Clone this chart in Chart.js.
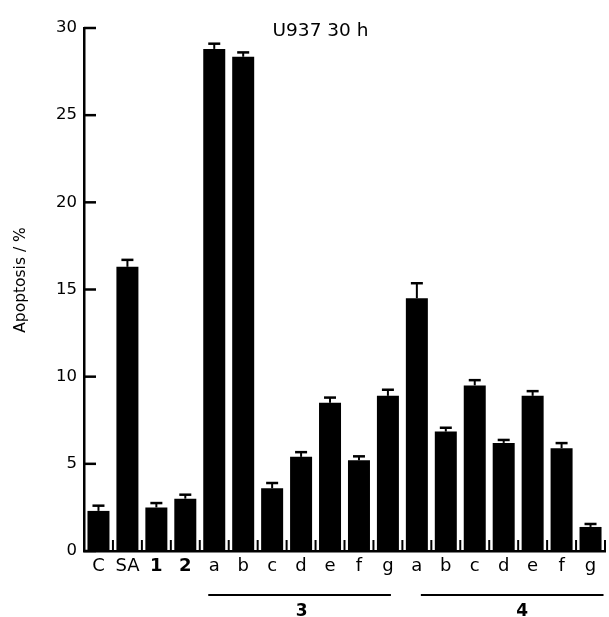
<!DOCTYPE html>
<html>
<head>
<meta charset="utf-8">
<title>U937 30 h</title>
<script src="https://cdn.jsdelivr.net/npm/chart.js@4.4.1/dist/chart.umd.min.js"></script>
<style>
    html, body { margin: 0; padding: 0; background: #fff; }
    #wrap { width: 609px; height: 617px; }
</style>
</head>
<body>
<div id="wrap"><canvas id="apoptosisChart" width="609" height="617"></canvas></div>
<script>
// categories on the x axis
const categories = ['C', 'SA', '1', '2', 'a', 'b', 'c', 'd', 'e', 'f', 'g', 'a', 'b', 'c', 'd', 'e', 'f', 'g'];
// indexes of labels printed bold
const boldLabels = [2, 3];
// mean apoptosis (%)
const apoptosis = [2.3, 16.3, 2.5, 3.0, 28.8, 28.35, 3.6, 5.4, 8.5, 5.2, 8.9, 14.5, 6.85, 9.5, 6.2, 8.9, 5.9, 1.38];
// upper error (SD)
const errors = [0.3, 0.4, 0.25, 0.23, 0.3, 0.25, 0.3, 0.27, 0.3, 0.23, 0.35, 0.86, 0.22, 0.3, 0.17, 0.27, 0.29, 0.17];
const yTicks = [0, 5, 10, 15, 20, 25, 30];
// compound groups under the axis
const groupNames = ['3', '4'];
const groupStart = [4, 11];
const groupEnd = [10, 17];
const chartTitle = 'U937 30 h';
const yTitle = 'Apoptosis / %';

Chart.defaults.font.family = '"DejaVu Sans", sans-serif';
Chart.defaults.color = '#000';

// error bars, inward ticks, title and group brackets
const extras = {
    id: 'extras',
    afterDatasetsDraw(chart) {
        const { ctx, chartArea, scales: { x, y } } = chart;
        ctx.save();
        ctx.strokeStyle = '#000';
        ctx.fillStyle = '#000';

        // error bars (upper only)
        const meta = chart.getDatasetMeta(0);
        meta.data.forEach((bar, i) => {
            const top = y.getPixelForValue(apoptosis[i] + errors[i]);
            ctx.lineWidth = 2;
            ctx.beginPath();
            ctx.moveTo(bar.x, bar.y);
            ctx.lineTo(bar.x, top);
            ctx.stroke();
            ctx.lineWidth = 2.5;
            ctx.beginPath();
            ctx.moveTo(bar.x - 6, top);
            ctx.lineTo(bar.x + 6, top);
            ctx.stroke();
        });

        // y ticks pointing inward
        ctx.lineWidth = 2.5;
        yTicks.forEach(v => {
            const py = y.getPixelForValue(v);
            ctx.beginPath();
            ctx.moveTo(chartArea.left, py);
            ctx.lineTo(chartArea.left + 12, py);
            ctx.stroke();
        });

        // small ticks between categories
        ctx.lineWidth = 2;
        for (let i = 1; i <= categories.length; i++) {
            let px;
            if (i === categories.length) {
                px = chartArea.right;
            } else {
                px = (x.getPixelForValue(i - 1) + x.getPixelForValue(i)) / 2;
            }
            ctx.beginPath();
            ctx.moveTo(px, chartArea.bottom);
            ctx.lineTo(px, chartArea.bottom - 11);
            ctx.stroke();
        }

        // title inside the plot
        ctx.font = '18.5px "DejaVu Sans"';
        ctx.textAlign = 'center';
        ctx.textBaseline = 'alphabetic';
        ctx.fillText(chartTitle, 320.5, 36);

        // y axis title
        ctx.save();
        ctx.translate(21, 280);
        ctx.rotate(-Math.PI / 2);
        ctx.font = '15.5px "DejaVu Sans"';
        ctx.textBaseline = 'middle';
        ctx.fillText(yTitle, 0, 0);
        ctx.restore();

        // group brackets
        const lineY = chartArea.bottom + 44;
        const startOff = [-6, 4];
        const endOff = [3, 13];
        const labelOff = [2, 10];
        ctx.lineWidth = 2;
        ctx.font = 'bold 17px "DejaVu Sans"';
        groupNames.forEach((name, g) => {
            const x0 = x.getPixelForValue(groupStart[g]) + startOff[g];
            const x1 = x.getPixelForValue(groupEnd[g]) + endOff[g];
            ctx.beginPath();
            ctx.moveTo(x0, lineY);
            ctx.lineTo(x1, lineY);
            ctx.stroke();
            ctx.fillText(name, (x0 + x1) / 2 + labelOff[g], 616);
        });

        ctx.restore();
    }
};

const chartData = {
    labels: categories,
    datasets: [{
        label: 'Apoptosis',
        data: apoptosis,
        backgroundColor: '#000',
        borderWidth: 0,
        barPercentage: 0.76,
        categoryPercentage: 1
    }]
};

const chartConfig = {
    type: 'bar',
    data: chartData,
    options: {
        responsive: false,
        animation: false,
        layout: {
            padding: { top: 28, right: 4, left: 0, bottom: 0 }
        },
        plugins: {
            legend: { display: false },
            tooltip: { enabled: false }
        },
        scales: {
            x: {
                grid: { display: false, drawTicks: false },
                border: { display: true, color: '#000', width: 2.5 },
                ticks: {
                    padding: 5,
                    autoSkip: false,
                    maxRotation: 0,
                    font: (c) => ({
                        size: 18,
                        weight: boldLabels.includes(c.index) ? 'bold' : 'normal'
                    })
                },
                afterFit: (scale) => { scale.height = 66; }
            },
            y: {
                min: 0,
                max: 30,
                grid: { display: false, drawTicks: false },
                border: { display: true, color: '#000', width: 2.5 },
                ticks: {
                    stepSize: 5,
                    padding: 7,
                    font: { size: 16.5 }
                },
                afterFit: (scale) => { scale.width = 84; }
            }
        }
    },
    plugins: [extras]
};

const ctx = document.getElementById('apoptosisChart').getContext('2d');
new Chart(ctx, chartConfig);
</script>
</body>
</html>
